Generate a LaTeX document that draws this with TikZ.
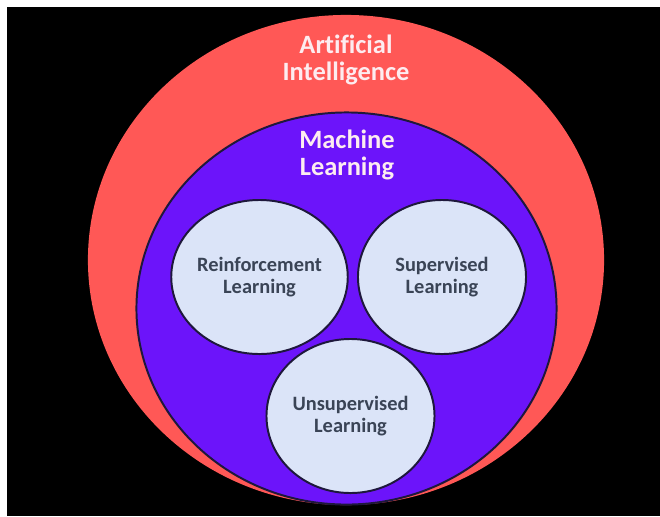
\documentclass[tikz,border=0pt]{standalone}
\usepackage{fontspec}
\setmainfont{Carlito}[Ligatures=CommonOff]
\usetikzlibrary{shapes.geometric}
\definecolor{aired}{RGB}{255,88,86}
\definecolor{mlviolet}{RGB}{108,20,250}
\definecolor{leaf}{RGB}{219,228,248}
\definecolor{rim}{RGB}{30,24,60}
\definecolor{leaftext}{RGB}{58,68,86}
\definecolor{titletext}{RGB}{253,236,240}

\begin{document}
\begin{tikzpicture}[x=0.025cm, y=-0.025cm]
    \tikzset{
        zone/.style={ellipse, inner sep=0pt},
        cbranch/.style={ellipse, fill=leaf, draw=rim, line width=1.4pt, minimum width=4.2cm, minimum height=3.85cm, inner sep=0pt, align=center, text=leaftext, font=\bfseries\fontsize{14.5}{15.6}\selectfont},
        ctitle/.style={align=center, text=titletext, font=\bfseries\fontsize{18.8}{19.8}\selectfont}
    }

    % Фон:
    \useasboundingbox (0, 0) rectangle (660, 516);
    \fill[white] (0, 0) rectangle (660, 516);
    \fill[black] (7, 7) rectangle (660, 516);

    % Внешний и внутренний овалы:
    \node[zone, fill=aired, minimum width=12.9cm, minimum height=12.25cm] (ai) at (346, 260) {};
    \node[zone, fill=mlviolet, draw=rim, line width=1.4pt, minimum width=10.5cm, minimum height=9.8cm] (ml) at (346.5, 308.5) {};

    \node[ctitle] (ai-label) at (346, 60) {Artificial\\Intelligence};
    \node[ctitle] (ml-label) at (347, 155) {Machine\\Learning};

    % Ветви:
    \foreach \n/\x/\y/\t in {rl/259.5/277/Reinforcement, sl/442/277/Supervised, ul/350.5/416/Unsupervised} {
        \node[cbranch] (\n) at (\x, \y) {\t\\Learning};
    }
\end{tikzpicture}
\end{document}
